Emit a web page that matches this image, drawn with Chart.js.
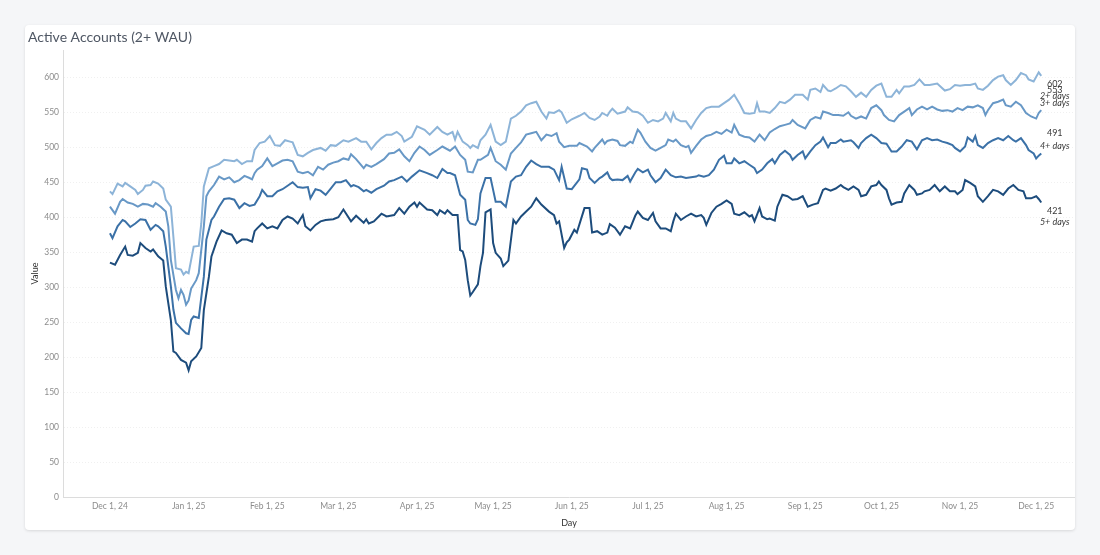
<!DOCTYPE html>
<html>
<head>
<meta charset="utf-8">
<script src="https://cdn.jsdelivr.net/npm/chart.js@4/dist/chart.umd.min.js"></script>
<style>
  body { margin: 0; background: #f5f6f8; width: 1100px; height: 555px; overflow: hidden; }
  .card {
    position: absolute; left: 25px; top: 25px; width: 1050px; height: 505px;
    background: #fff; border-radius: 4px;
    box-shadow: 0 1px 3px rgba(0, 0, 0, 0.12);
  }
  canvas { display: block; }
</style>
</head>
<body>
<div class="card"><canvas id="myChart" width="1050" height="505"></canvas></div>
<script>
// days counted from Dec 1, 2024
const monthTicks = [0, 31, 62, 90, 121, 151, 182, 212, 243, 274, 304, 335, 365];
const monthLabels = ['Dec 1, 24', 'Jan 1, 25', 'Feb 1, 25', 'Mar 1, 25', 'Apr 1, 25', 'May 1, 25',
  'Jun 1, 25', 'Jul 1, 25', 'Aug 1, 25', 'Sep 1, 25', 'Oct 1, 25', 'Nov 1, 25', 'Dec 1, 25'];
const valueTicks = [0, 50, 100, 150, 200, 250, 300, 350, 400, 450, 500, 550, 600];

const seriesNames = ['2+ days', '3+ days', '4+ days', '5+ days'];

// [day, value]
const twoPlus = [[0,437],[1,433],[3,448],[5,444],[6,449],[8,444],[10,439],[11,433],[13,439],[14,445],[16,446],[17,451],[19,448],[21,441],[22,425],[24,415],[25,372],[26,327],[28,325],[29,318],[30,322],[31,320],[32,339],[33,358],[35,359],[36,391],[37,444],[39,470],[41,473],[43,476],[45,482],[47,481],[49,480],[50,482],[52,476],[54,480],[56,480],[57,496],[59,506],[61,508],[63,516],[65,503],[67,502],[69,510],[71,508],[72,507],[74,489],[76,487],[78,492],[80,496],[83,499],[85,495],[87,503],[89,502],[92,510],[94,508],[97,513],[99,508],[101,508],[103,497],[105,506],[107,513],[109,518],[111,518],[113,522],[115,516],[116,508],[119,515],[121,530],[124,525],[126,518],[129,529],[131,522],[133,518],[135,522],[136,511],[137,522],[139,508],[141,503],[142,499],[143,503],[145,499],[146,510],[148,518],[150,532],[152,508],[154,503],[156,508],[158,541],[160,545],[162,551],[164,560],[166,563],[168,565],[170,551],[172,541],[173,550],[175,549],[177,553],[178,550],[180,535],[182,540],[185,545],[187,549],[189,542],[191,539],[193,544],[194,549],[196,545],[197,551],[198,555],[200,548],[201,549],[203,551],[204,557],[206,551],[208,550],[210,545],[212,535],[214,539],[216,537],[218,541],[219,549],[221,537],[222,549],[223,541],[225,537],[227,537],[229,527],[231,539],[233,549],[235,556],[237,558],[240,558],[242,563],[244,568],[246,575],[248,563],[250,549],[252,548],[254,549],[255,563],[256,551],[258,551],[260,549],[262,556],[264,565],[266,563],[268,568],[270,575],[273,575],[275,568],[276,582],[278,584],[280,579],[281,589],[283,581],[284,580],[286,584],[288,589],[290,587],[292,580],[294,572],[296,578],[298,572],[300,582],[302,588],[304,591],[306,572],[308,572],[310,582],[311,577],[313,587],[315,587],[317,589],[319,597],[321,589],[323,589],[326,591],[329,581],[331,583],[333,589],[335,588],[337,589],[339,589],[341,591],[342,584],[344,582],[346,588],[348,596],[350,601],[352,603],[353,596],[355,589],[357,596],[359,606],[361,603],[362,597],[364,594],[366,607],[367,602]];

const threePlus = [[0,415],[2,405],[4,422],[5,426],[7,421],[9,419],[11,415],[13,419],[15,418],[17,415],[18,420],[20,415],[22,408],[23,387],[24,339],[26,296],[27,284],[28,296],[29,289],[30,275],[31,281],[32,298],[34,310],[35,320],[37,387],[38,430],[39,437],[41,446],[43,458],[45,454],[47,457],[49,450],[51,453],[53,459],[55,456],[56,454],[57,463],[58,468],[60,473],[62,484],[64,473],[66,477],[68,481],[70,482],[72,480],[74,465],[76,463],[78,465],[80,460],[82,472],[84,468],[86,475],[88,478],[90,480],[92,484],[94,482],[95,490],[97,483],[100,470],[101,475],[103,472],[105,476],[108,483],[110,491],[112,492],[114,497],[116,487],[118,480],[120,492],[122,501],[124,496],[126,489],[129,496],[131,501],[134,495],[136,501],[138,489],[140,482],[141,465],[143,464],[145,482],[146,482],[149,489],[150,499],[152,480],[154,475],[156,468],[158,491],[160,499],[162,507],[164,518],[166,520],[168,522],[170,510],[172,518],[174,516],[176,520],[177,508],[179,500],[181,502],[184,502],[185,506],[188,501],[190,494],[191,499],[194,511],[195,505],[196,509],[198,511],[200,509],[201,503],[203,502],[205,508],[206,506],[208,525],[209,521],[211,508],[213,499],[215,495],[217,499],[219,503],[220,511],[222,508],[223,511],[225,503],[227,500],[228,502],[229,492],[231,502],[233,511],[235,516],[237,518],[239,522],[241,519],[243,525],[245,521],[246,532],[248,518],[250,515],[252,514],[254,508],[256,518],[258,510],[260,521],[262,526],[264,530],[266,532],[268,534],[269,539],[271,532],[274,527],[276,539],[278,543],[280,541],[281,551],[283,549],[285,546],[287,546],[289,545],[291,550],[292,545],[294,541],[296,544],[298,541],[300,556],[302,560],[304,553],[305,546],[307,539],[309,537],[311,546],[313,551],[315,556],[316,546],[318,554],[320,558],[322,554],[324,558],[326,554],[328,552],[330,553],[332,551],[334,556],[336,553],[338,558],[340,557],[342,560],[344,556],[345,546],[346,553],[348,563],[350,565],[352,568],[353,560],[355,558],[357,565],[359,560],[361,549],[363,544],[365,541],[366,549],[367,553]];

const fourPlus = [[0,377],[1,370],[3,387],[5,396],[6,394],[8,386],[10,391],[12,397],[14,396],[16,382],[18,389],[19,387],[21,380],[22,358],[24,301],[25,268],[26,249],[28,241],[30,234],[31,233],[32,253],[33,258],[35,256],[37,315],[38,368],[40,396],[41,401],[43,415],[45,426],[47,427],[49,425],[51,413],[53,420],[55,416],[57,418],[59,430],[60,439],[62,430],[64,430],[66,437],[68,440],[70,445],[72,450],[74,443],[76,442],[78,443],[79,427],[81,440],[83,438],[85,432],[87,441],[89,450],[91,450],[93,453],[95,444],[96,446],[98,443],[100,437],[101,439],[103,435],[105,440],[108,445],[110,451],[112,453],[115,458],[117,451],[119,458],[122,467],[125,463],[127,460],[129,456],[131,469],[133,463],[134,463],[136,460],[138,432],[140,425],[141,396],[142,391],[144,389],[145,397],[146,434],[148,456],[150,456],[151,439],[152,422],[154,422],[156,415],[158,451],[160,458],[162,460],[164,472],[166,481],[168,476],[170,472],[173,472],[175,468],[177,453],[178,472],[180,441],[182,440],[185,454],[186,470],[188,468],[189,456],[191,449],[193,456],[194,458],[196,464],[197,456],[198,453],[200,454],[202,453],[204,459],[205,451],[207,464],[208,469],[210,464],[212,468],[213,460],[215,450],[217,456],[219,468],[221,460],[223,457],[225,458],[227,456],[229,457],[231,458],[232,460],[234,458],[236,460],[238,468],[240,482],[242,488],[243,477],[245,477],[246,484],[248,477],[250,480],[252,475],[254,470],[255,463],[257,468],[259,477],[261,483],[262,477],[264,489],[266,495],[268,489],[269,482],[271,489],[273,494],[274,484],[276,494],[278,503],[280,508],[281,514],[283,500],[284,506],[286,506],[288,511],[289,508],[292,510],[293,507],[295,499],[296,506],[298,513],[300,518],[302,513],[304,506],[306,505],[308,494],[310,494],[312,501],[314,510],[316,508],[318,497],[320,510],[322,513],[324,510],[326,511],[328,508],[330,506],[332,503],[333,499],[335,494],[337,501],[338,514],[340,508],[341,516],[342,503],[344,499],[346,506],[348,510],[350,513],[352,510],[354,516],[356,510],[357,508],[359,513],[361,503],[362,496],[364,491],[365,484],[366,488],[367,491]];

const fivePlus = [[0,335],[2,332],[4,346],[6,358],[7,346],[9,345],[11,349],[12,363],[14,356],[16,351],[17,354],[19,344],[21,338],[22,301],[24,253],[25,208],[26,206],[28,196],[30,192],[31,181],[32,194],[34,201],[36,213],[37,267],[39,315],[40,344],[42,365],[44,381],[46,377],[48,375],[50,363],[52,368],[54,368],[56,365],[57,380],[58,384],[60,391],[62,384],[64,387],[66,384],[68,396],[70,401],[72,398],[74,391],[76,403],[77,387],[79,381],[81,389],[83,394],[85,396],[88,397],[90,400],[92,411],[95,394],[97,402],[100,392],[101,397],[102,391],[104,394],[107,405],[109,401],[112,403],[114,413],[116,405],[118,415],[120,421],[121,415],[122,421],[125,411],[127,410],[129,403],[130,410],[132,405],[133,410],[135,403],[137,403],[138,353],[139,351],[140,339],[141,310],[142,288],[143,293],[145,304],[146,330],[147,349],[148,407],[150,411],[151,363],[152,349],[154,341],[155,330],[157,338],[159,396],[160,391],[162,401],[164,408],[166,415],[168,427],[170,418],[173,408],[175,403],[176,391],[177,394],[179,356],[180,364],[181,368],[183,382],[184,378],[187,413],[189,413],[190,378],[192,380],[194,375],[196,378],[197,390],[199,385],[201,375],[203,387],[205,384],[207,402],[208,408],[210,399],[212,396],[214,406],[215,394],[217,384],[219,384],[221,380],[222,394],[223,405],[225,396],[227,401],[229,405],[231,401],[233,403],[234,399],[235,389],[237,406],[239,415],[241,419],[243,424],[245,419],[246,405],[248,403],[250,407],[252,401],[253,403],[254,394],[256,413],[257,401],[259,397],[260,398],[262,395],[263,415],[265,432],[267,430],[269,425],[271,426],[273,430],[275,415],[277,418],[279,420],[281,439],[282,441],[284,438],[286,441],[288,446],[289,443],[291,439],[293,444],[295,439],[296,430],[298,432],[300,444],[302,446],[303,451],[304,446],[306,439],[307,427],[308,418],[310,421],[312,422],[313,434],[315,446],[317,439],[318,432],[320,434],[321,437],[323,439],[325,446],[327,437],[329,444],[331,437],[333,437],[334,433],[336,439],[337,453],[339,449],[341,444],[342,430],[344,422],[346,430],[348,439],[350,437],[352,432],[354,441],[356,446],[358,439],[360,437],[361,427],[363,427],[365,430],[366,426],[367,421]];

const lineColors = ['#8db4d8', '#6898c6', '#3b71a7', '#1d4c7c'];
const labelSides = ['below', 'above', 'above', 'below'];

const FONT = "Lato, sans-serif";

const toPoints = (rows) => rows.map(r => ({ x: r[0], y: r[1] }));

const endLabels = {
    id: 'endLabels',
    afterDatasetsDraw(chart) {
        const ctx = chart.ctx;
        ctx.save();
        ctx.textAlign = 'center';
        ctx.textBaseline = 'middle';
        ctx.fillStyle = '#3a3a3a';
        chart.data.datasets.forEach((ds, i) => {
            const meta = chart.getDatasetMeta(i);
            const pt = meta.data[meta.data.length - 1];
            const value = ds.data[ds.data.length - 1].y;
            const x = pt.x + 13.5;
            let y1, y2;
            if (ds.labelSide === 'below') {
                y1 = pt.y + 8.7;
                y2 = pt.y + 19.8;
            } else {
                y1 = pt.y - 20;
                y2 = pt.y - 7.5;
            }
            ctx.font = "9px " + FONT;
            ctx.fillText(String(value), x, y1);
            ctx.font = "italic 9px " + FONT;
            ctx.fillText(ds.label, x, y2);
        });
        ctx.restore();
    }
};

const allSeries = [twoPlus, threePlus, fourPlus, fivePlus];

const myChart = new Chart("myChart", {
    type: "line",
    data: {
        datasets: allSeries.map((rows, i) => ({
            label: seriesNames[i],
            data: toPoints(rows),
            borderColor: lineColors[i],
            borderWidth: 2,
            pointRadius: 0,
            tension: 0,
            fill: false,
            labelSide: labelSides[i]
        }))
    },
    options: {
        responsive: false,
        animation: false,
        devicePixelRatio: 1,
        layout: { padding: { left: 3, right: 0, top: 0, bottom: 0 } },
        plugins: {
            legend: { display: false },
            tooltip: { enabled: false },
            title: {
                display: true,
                text: 'Active Accounts (2+ WAU)',
                align: 'start',
                color: '#4f5764',
                font: { family: FONT, size: 14, weight: 'normal' },
                padding: { top: 3.6, bottom: 4.6 }
            }
        },
        scales: {
            x: {
                type: 'linear',
                min: -18.5,
                max: 380.3,
                afterBuildTicks: (scale) => {
                    scale.ticks = monthTicks.map(v => ({ value: v }));
                },
                afterFit: (scale) => { scale.height = 33; },
                ticks: {
                    autoSkip: false,
                    maxRotation: 0,
                    padding: 4,
                    color: '#8c8c8c',
                    font: { family: FONT, size: 8.5 },
                    callback: (v, i) => monthLabels[i]
                },
                grid: { display: false, drawTicks: false },
                border: { display: true, color: '#dcdcdc', dash: [1, 2] },
                title: {
                    display: true,
                    text: 'Day',
                    color: '#333',
                    font: { family: FONT, size: 9 },
                    padding: { top: 0, bottom: 2 }
                }
            },
            y: {
                min: 0,
                max: 639,
                afterBuildTicks: (scale) => {
                    scale.ticks = valueTicks.map(v => ({ value: v }));
                },
                afterFit: (scale) => { scale.width = 35; },
                ticks: {
                    padding: 4,
                    color: '#8c8c8c',
                    font: { family: FONT, size: 8.5 }
                },
                grid: {
                    drawTicks: false,
                    color: (c) => c.tick && c.tick.value === 0 ? 'rgba(0,0,0,0)' : '#f0f0f0'
                },
                border: { display: true, color: '#dcdcdc', dash: [1, 2] },
                title: {
                    display: true,
                    text: 'Value',
                    color: '#333',
                    font: { family: FONT, size: 9 },
                    padding: { top: 2, bottom: 0 }
                }
            }
        }
    },
    plugins: [endLabels]
});
</script>
</body>
</html>
